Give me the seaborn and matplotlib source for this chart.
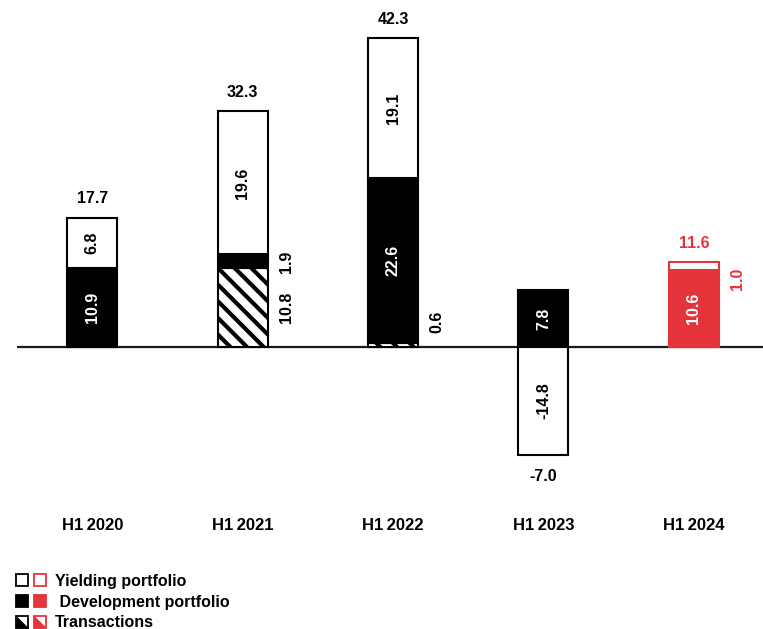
import numpy as np
import matplotlib
matplotlib.use('Agg')
import matplotlib.pyplot as plt
from matplotlib.lines import Line2D
from matplotlib.legend_handler import HandlerTuple
import seaborn as sns

# Data (EUR m)
periods = ['H1 2020', 'H1 2021', 'H1 2022', 'H1 2023', 'H1 2024']
transactions = [0.0, 10.8, 0.6, 0.0, 0.0]
development = [10.9, 1.9, 22.6, 7.8, 10.6]
yielding = [6.8, 19.6, 19.1, -14.8, 1.0]
totals = [17.7, 32.3, 42.3, -7.0, 11.6]

red = '#e5333b'

sns.set_theme(style='white')
plt.rcParams['font.family'] = ['Liberation Sans', 'DejaVu Sans']
plt.rcParams['font.weight'] = 'bold'
plt.rcParams['text.color'] = 'black'
plt.rcParams['xtick.color'] = 'black'
plt.rcParams['hatch.linewidth'] = 3.0

fig = plt.figure(figsize=(7.63, 6.29), dpi=100)
ax = fig.add_axes([17 / 763, 1 - 500 / 629, 1 - 17 / 763, 490 / 629])

trans = np.array(transactions)
dev = np.array(development)
yld = np.array(yielding)
dev_bottom = trans
yld_bottom = np.where(yld > 0, trans + dev, 0)
bw = 0.333

# baseline
ax.axhline(0, color='#1a1a1a', lw=1.6, zorder=0.5)


def stacked(vals, bottom, face, hatch=None):
    n0 = len(ax.patches)
    sns.barplot(x=periods, y=vals, bottom=bottom, width=bw, color=face,
                edgecolor='black', hatch=hatch, linewidth=1.5, saturation=1,
                errorbar=None, ax=ax, zorder=2)
    return ax.patches[n0:]


stacked(trans, 0, 'white', hatch='\\\\')
dev_bars = stacked(dev, dev_bottom, 'black')
yld_bars = stacked(yld, yld_bottom, 'white')
# H1 2024 is shown in red
dev_bars[4].set_facecolor(red)
dev_bars[4].set_edgecolor(red)
yld_bars[4].set_edgecolor(red)

fs = 11.5
# segment labels
layers = [('trans', trans, np.zeros(5)), ('dev', dev, dev_bottom), ('yld', yld, yld_bottom)]
nudge = {('trans', 2): 3.1, ('yld', 4): -1.7}
for name, vals, bots in layers:
    for i, (v, b) in enumerate(zip(vals, bots)):
        if v == 0:
            continue
        yc = b + v / 2 + nudge.get((name, i), 0)
        outside = name == 'trans' or abs(v) < 2.5
        if outside:
            col = red if i == 4 else 'black'
            ax.text(i + 0.29, yc, f'{v:.1f}', rotation=90, ha='center', va='center',
                    fontsize=fs, fontweight='bold', color=col)
        else:
            col = 'white' if name == 'dev' else 'black'
            ax.text(i, yc, f'{v:.1f}', rotation=90, ha='center', va='center',
                    fontsize=fs, fontweight='bold', color=col)

# totals
for i, t in enumerate(totals):
    col = red if i == 4 else 'black'
    if t >= 0:
        top = trans[i] + dev[i] + max(yld[i], 0)
        ax.text(i, top + 1.6, f'{t:.1f}', ha='center', va='bottom',
                fontsize=fs, fontweight='bold', color=col)
    else:
        low = min(yld[i], 0)
        ax.text(i, low - 1.9, f'{t:.1f}', ha='center', va='top',
                fontsize=fs, fontweight='bold', color=col)

ax.set_xlim(-0.5, 4.46)
ax.set_ylim(-20.96, 46.2)
ax.set_xticks(range(5))
ax.set_xticklabels([p.replace(' ', '\u2009') for p in periods],
                   fontsize=12, fontweight='bold', color='black')
ax.tick_params(axis='x', length=0, pad=13)
ax.set_yticks([])
ax.set_xlabel('')
ax.set_ylabel('')
sns.despine(ax=ax, left=True, bottom=True)

# legend
ms = 8.5
def sq(fc, ec):
    return Line2D([], [], marker='s', ms=ms, mfc=fc, mec=ec, mew=1.3, ls='none')

tri = [(-1, -1), (-1, 1), (1, -1)]
def tri_mark(c):
    return Line2D([], [], marker=tri, ms=ms, mfc=c, mec=c, mew=0.5, ls='none')

h_y = (sq('white', 'black'), sq('white', red))
h_d = (sq('black', 'black'), sq(red, red))
h_t = ((sq('white', 'black'), tri_mark('black')), (sq('white', red), tri_mark(red)))
hm = {h: HandlerTuple(ndivide=None, pad=0.15) for h in (h_y, h_d, h_t)}
fig.legend(handles=[h_y, h_d, h_t],
           labels=['Yielding portfolio', ' Development portfolio', 'Transactions'],
           handler_map=hm, loc='upper left', bbox_to_anchor=(6 / 763, 1 - 566 / 629),
           frameon=False, prop={'size': 11.5, 'weight': 'bold'}, labelcolor='black',
           handlelength=2.1, handletextpad=0.45, labelspacing=0.35, borderpad=0)

fig.savefig('out.png', dpi=100, facecolor='white')
